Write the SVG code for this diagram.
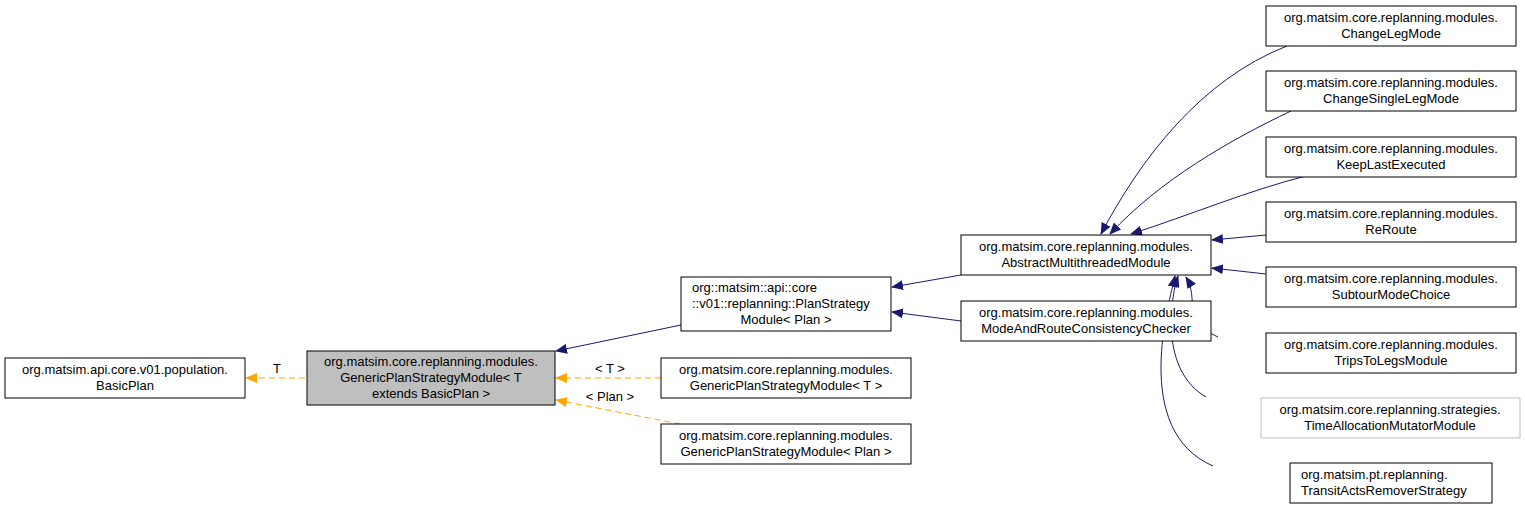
<svg xmlns="http://www.w3.org/2000/svg" width="1525" height="509" viewBox="0 0 1525 509">
<defs>
<style>
text{font-family:"Liberation Sans",Arial,sans-serif;font-size:13px;fill:#000;text-anchor:middle}
.n{fill:#fff;stroke:#000;stroke-width:1}
.g{fill:#fff;stroke:#bfbfbf;stroke-width:1}
.sel{fill:#bfbfbf;stroke:#000;stroke-width:1}
.e{fill:none;stroke:#191970;stroke-width:1}
.o{fill:none;stroke:#ffa500;stroke-width:1;stroke-dasharray:6,4}
</style>
<marker id="an" markerWidth="12" markerHeight="10" refX="11" refY="5" orient="auto" markerUnits="userSpaceOnUse"><path d="M0,0 L12,5 L0,10 z" fill="#191970"/></marker>
<marker id="ao" markerWidth="12" markerHeight="10" refX="11" refY="5" orient="auto" markerUnits="userSpaceOnUse"><path d="M0,0 L12,5 L0,10 z" fill="#ffa500"/></marker>
</defs>
<rect width="1525" height="509" fill="#fff"/>
<g id="edges">
<path class="o" d="M305,378 L246,378" marker-end="url(#ao)"/>
<text x="277" y="373">T</text>
<path class="e" d="M681,325 L556,351" marker-end="url(#an)"/>
<path class="o" d="M661,378 L556,378" marker-end="url(#ao)"/>
<text x="610" y="373">&lt; T &gt;</text>
<path class="o" d="M680,424 L556,400" marker-end="url(#ao)"/>
<text x="610" y="401">&lt; Plan &gt;</text>
<path class="e" d="M961,275 L892,287" marker-end="url(#an)"/>
<path class="e" d="M961,321 L892,312" marker-end="url(#an)"/>
<path class="e" d="M1287,46 C1200,80 1140,160 1101,234" marker-end="url(#an)"/>
<path class="e" d="M1291,111 C1230,140 1160,180 1110,234" marker-end="url(#an)"/>
<path class="e" d="M1306,176 C1250,190 1190,215 1131,234" marker-end="url(#an)"/>
<path class="e" d="M1266,235 L1212,240" marker-end="url(#an)"/>
<path class="e" d="M1266,274 L1212,268" marker-end="url(#an)"/>
<path class="e" d="M1218,337 C1180,320 1200,300 1186,277" marker-end="url(#an)"/>
<path class="e" d="M1206,397 C1160,370 1170,300 1178,276" marker-end="url(#an)"/>
<path class="e" d="M1213,466 C1130,430 1170,300 1175,276" marker-end="url(#an)"/>
</g>
<g id="n_basicplan"><rect class="n" x="5" y="358" width="240" height="40"/><text x="125" y="374">org.matsim.api.core.v01.population.</text><text x="125" y="390">BasicPlan</text></g>
<g id="n_generic"><rect class="sel" x="307" y="351" width="248" height="54"/><text x="431" y="366">org.matsim.core.replanning.modules.</text><text x="431" y="382">GenericPlanStrategyModule&lt; T</text><text x="431" y="398">extends BasicPlan &gt;</text></g>
<g id="n_planstrategy"><rect class="n" x="681" y="277" width="210" height="54"/><text x="692" y="292" style="text-anchor:start">org::matsim::api::core</text><text x="692" y="308" style="text-anchor:start">::v01::replanning::PlanStrategy</text><text x="786" y="324">Module&lt; Plan &gt;</text></g>
<g id="n_genericT"><rect class="n" x="661" y="358" width="250" height="40"/><text x="786" y="374">org.matsim.core.replanning.modules.</text><text x="786" y="390">GenericPlanStrategyModule&lt; T &gt;</text></g>
<g id="n_genericPlan"><rect class="n" x="661" y="424" width="250" height="40"/><text x="786" y="440">org.matsim.core.replanning.modules.</text><text x="786" y="456">GenericPlanStrategyModule&lt; Plan &gt;</text></g>
<g id="n_abstract"><rect class="n" x="961" y="235" width="250" height="40"/><text x="1086" y="251">org.matsim.core.replanning.modules.</text><text x="1086" y="267">AbstractMultithreadedModule</text></g>
<g id="n_moderoute"><rect class="n" x="961" y="301" width="250" height="40"/><text x="1086" y="317">org.matsim.core.replanning.modules.</text><text x="1086" y="333">ModeAndRouteConsistencyChecker</text></g>
<g id="n_changeleg"><rect class="n" x="1266" y="6" width="250" height="40"/><text x="1391" y="22">org.matsim.core.replanning.modules.</text><text x="1391" y="38">ChangeLegMode</text></g>
<g id="n_changesingle"><rect class="n" x="1266" y="71" width="250" height="40"/><text x="1391" y="87">org.matsim.core.replanning.modules.</text><text x="1391" y="103">ChangeSingleLegMode</text></g>
<g id="n_keeplast"><rect class="n" x="1266" y="137" width="250" height="40"/><text x="1391" y="153">org.matsim.core.replanning.modules.</text><text x="1391" y="169">KeepLastExecuted</text></g>
<g id="n_reroute"><rect class="n" x="1266" y="202" width="250" height="40"/><text x="1391" y="218">org.matsim.core.replanning.modules.</text><text x="1391" y="234">ReRoute</text></g>
<g id="n_subtour"><rect class="n" x="1266" y="267" width="250" height="40"/><text x="1391" y="283">org.matsim.core.replanning.modules.</text><text x="1391" y="299">SubtourModeChoice</text></g>
<g id="n_trips"><rect class="n" x="1266" y="333" width="250" height="40"/><text x="1391" y="349">org.matsim.core.replanning.modules.</text><text x="1391" y="365">TripsToLegsModule</text></g>
<g id="n_timealloc"><rect class="g" x="1261" y="398" width="259" height="40"/><text x="1390" y="414">org.matsim.core.replanning.strategies.</text><text x="1390" y="430">TimeAllocationMutatorModule</text></g>
<g id="n_transit"><rect class="n" x="1290" y="463" width="202" height="40"/><text x="1301" y="479" style="text-anchor:start">org.matsim.pt.replanning.</text><text x="1301" y="495" style="text-anchor:start">TransitActsRemoverStrategy</text></g>
</svg>
